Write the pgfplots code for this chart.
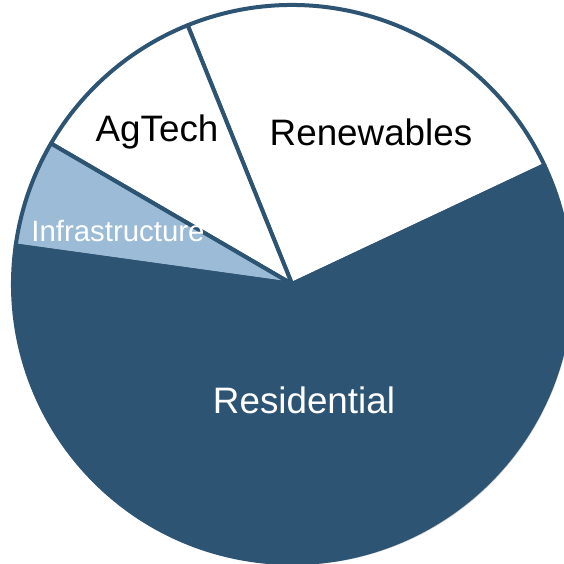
\documentclass[border=0pt]{standalone}
\usepackage{pgfplots}
\pgfplotsset{compat=1.18}
\usepackage{pgfplotstable}
\usepackage{fontspec}
\setmainfont{Liberation Sans}
\definecolor{darkblue}{HTML}{2E5474}
\definecolor{lightblue}{HTML}{9BBBD6}

\pgfplotstableread{
label share
Renewables 24.1
AgTech 10.5
Infrastructure 6.2
Residential 59.2
}\piedata

\begin{document}
\begin{tikzpicture}
\pgfplotstablegetelem{0}{share}\of\piedata \let\sA\pgfplotsretval
\pgfplotstablegetelem{1}{share}\of\piedata \let\sB\pgfplotsretval
\pgfplotstablegetelem{2}{share}\of\piedata \let\sC\pgfplotsretval
\pgfplotstablegetelem{3}{share}\of\piedata \let\sD\pgfplotsretval
\pgfmathsetmacro\aZero{25.2}
\pgfmathsetmacro\aOne{\aZero+3.6*\sA}
\pgfmathsetmacro\aTwo{\aOne+3.6*\sB}
\pgfmathsetmacro\aThree{\aTwo+3.6*\sC}
\pgfmathsetmacro\aFour{\aThree+3.6*\sD}
\begin{axis}[
  x=0.5pt, y=0.5pt,
  xmin=0, xmax=564, ymin=0, ymax=564,
  axis lines=none, ticks=none,
  scale only axis,
  clip=true,
]
\coordinate (bl) at (axis cs:0,0);
\coordinate (tr) at (axis cs:564,564);
\begin{scope}
\clip (axis cs:0,0) rectangle (axis cs:564,564);
\fill[black!18] (axis cs:294,278) circle[radius=139.5pt];
\filldraw[fill=white, draw=darkblue, line width=2pt, line join=round]
  (axis cs:292,280) -- ++(\aZero:139.5pt) arc[start angle=\aZero, end angle=\aOne, radius=139.5pt] -- cycle;
\filldraw[fill=white, draw=darkblue, line width=2pt, line join=round]
  (axis cs:292,280) -- ++(\aOne:139.5pt) arc[start angle=\aOne, end angle=\aTwo, radius=139.5pt] -- cycle;
\filldraw[fill=lightblue, draw=darkblue, line width=2pt, line join=round]
  (axis cs:292,280) -- ++(\aTwo:139.5pt) arc[start angle=\aTwo, end angle=\aThree, radius=139.5pt] -- cycle;
\filldraw[fill=darkblue, draw=darkblue, line width=2pt, line join=round]
  (axis cs:292,280) -- ++(\aThree:139.5pt) arc[start angle=\aThree, end angle=\aFour, radius=139.5pt] -- cycle;
\end{scope}
\node[font=\fontsize{18.4}{20}\selectfont] at (axis cs:157,432) {AgTech};
\node[font=\fontsize{18.4}{20}\selectfont] at (axis cs:371,432) {Renewables};
\node[font=\fontsize{14.7}{16}\selectfont, text=white] at (axis cs:118,333) {Infrastructure};
\node[font=\fontsize{18.4}{20}\selectfont, text=white] at (axis cs:304,164) {Residential};
\end{axis}
\pgfresetboundingbox
\path[use as bounding box] (bl) rectangle (tr);
\end{tikzpicture}
\end{document}
